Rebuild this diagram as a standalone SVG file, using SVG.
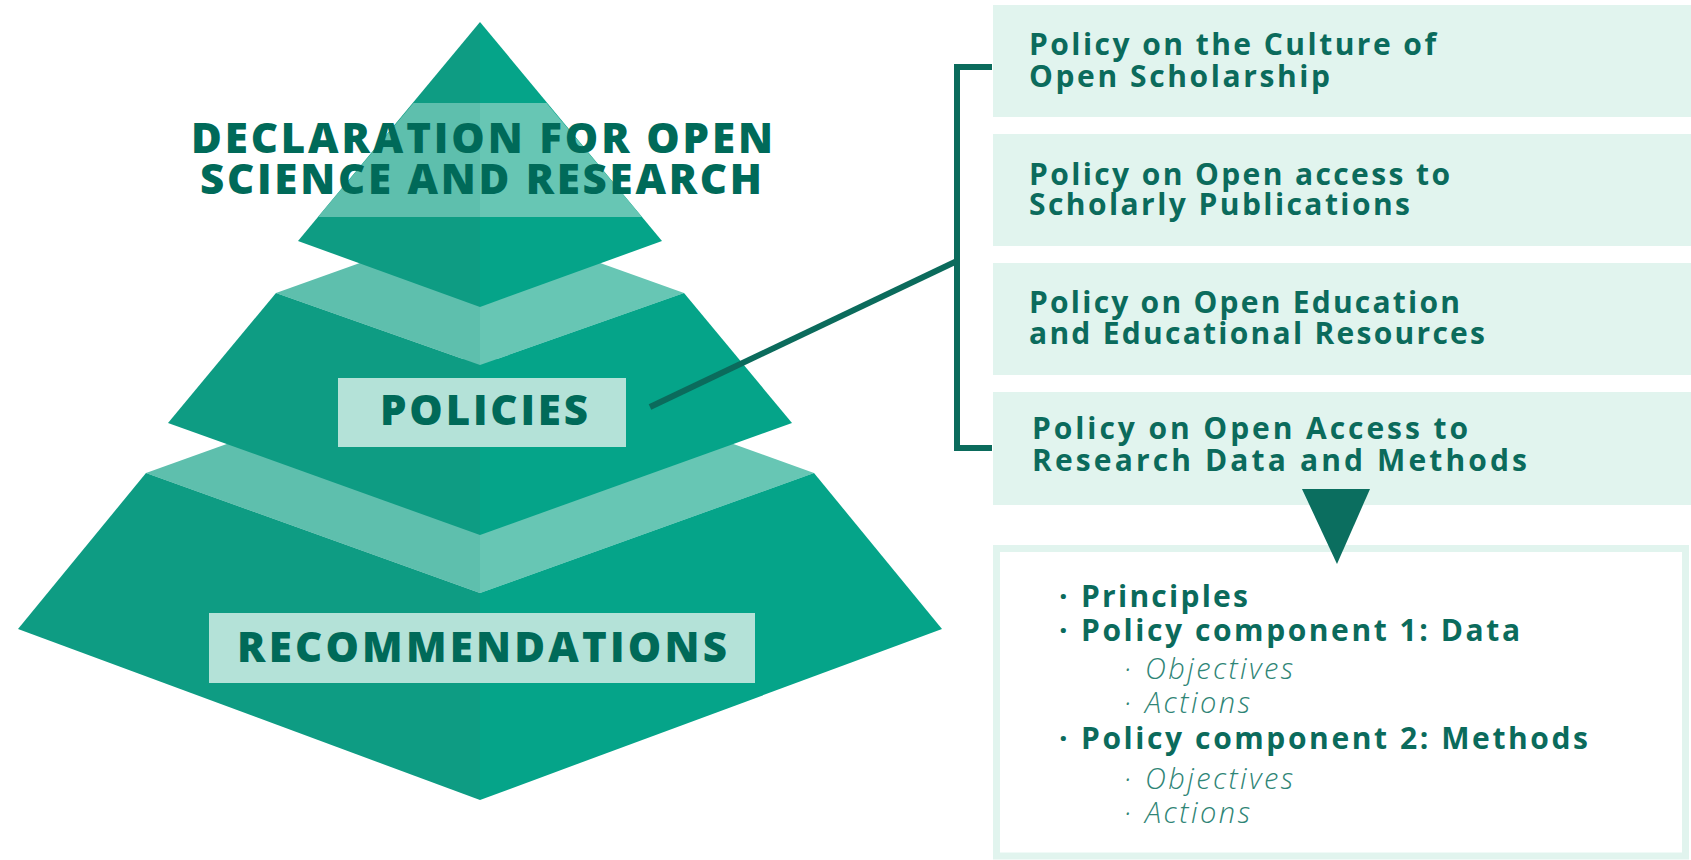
<svg xmlns="http://www.w3.org/2000/svg" width="1691" height="860" viewBox="0 0 1691 860">
<style>
.dl{fill:#0e9c83}.dr{fill:#05a489}
.ll{fill:#5ebfad}.lr{fill:#67c6b4}
.lab{fill:#b4e2d8}
.pt{font-family:"Open Sans","Noto Sans","DejaVu Sans",sans-serif;font-weight:800;fill:#006a59}
.box{fill:#e1f4ee}
.bt{font-family:"Open Sans","Noto Sans","DejaVu Sans",sans-serif;font-weight:700;font-size:30px;fill:#0b6b5c}
.it{font-family:"Open Sans","Noto Sans","DejaVu Sans",sans-serif;font-weight:300;font-style:italic;font-size:29px;fill:#2f8576}
.con{fill:none;stroke:#0b6b5c;stroke-width:6}
</style>
<rect width="1691" height="860" fill="#ffffff"/>
<g id="pyramid">
  <g id="tier3">
    <polygon class="ll" points="146,473 480,353 480,593"/>
    <polygon class="lr" points="814,473 480,353 480,593"/>
    <polygon class="dl" points="146,473 480,593 480,800 18,629"/>
    <polygon class="dr" points="814,473 480,593 480,800 942,629"/>
  </g>
  <g id="tier2">
    <polygon class="ll" points="276,293 480,220 480,365"/>
    <polygon class="lr" points="684,293 480,220 480,365"/>
    <polygon class="dl" points="276,293 480,365 480,535 168,423"/>
    <polygon class="dr" points="684,293 480,365 480,535 792,423"/>
  </g>
  <g id="tier1">
    <polygon class="dl" points="480,22 298,241 480,307"/>
    <polygon class="dr" points="480,22 662,241 480,307"/>
    <polygon class="ll" points="413.5,103 480,103 480,217 318,217"/>
    <polygon class="lr" points="546.5,103 480,103 480,217 642,217"/>
  </g>
</g>
<g id="declaration">
  <text class="pt" x="191" y="153" font-size="42" textLength="582" lengthAdjust="spacing">DECLARATION FOR OPEN</text>
  <text class="pt" x="200" y="194" font-size="42" textLength="562" lengthAdjust="spacing">SCIENCE AND RESEARCH</text>
</g>
<g id="policies">
  <rect class="lab" x="338" y="378" width="288" height="69"/>
  <text class="pt" x="380" y="425" font-size="42" textLength="208" lengthAdjust="spacing">POLICIES</text>
</g>
<g id="recommendations">
  <rect class="lab" x="209" y="613" width="546" height="70"/>
  <text class="pt" x="237" y="662" font-size="42" textLength="490" lengthAdjust="spacing">RECOMMENDATIONS</text>
</g>
<g id="policy1">
  <rect class="box" x="993" y="5" width="698" height="112"/>
  <text class="bt" x="1029" y="55" textLength="407" lengthAdjust="spacing">Policy on the Culture of</text>
  <text class="bt" x="1029" y="87" textLength="301" lengthAdjust="spacing">Open Scholarship</text>
</g>
<g id="policy2">
  <rect class="box" x="993" y="134" width="698" height="112"/>
  <text class="bt" x="1029" y="185" textLength="421" lengthAdjust="spacing">Policy on Open access to</text>
  <text class="bt" x="1029" y="215" textLength="381" lengthAdjust="spacing">Scholarly Publications</text>
</g>
<g id="policy3">
  <rect class="box" x="993" y="263" width="698" height="112"/>
  <text class="bt" x="1029" y="313" textLength="431" lengthAdjust="spacing">Policy on Open Education</text>
  <text class="bt" x="1029" y="344" textLength="456" lengthAdjust="spacing">and Educational Resources</text>
</g>
<g id="policy4">
  <rect class="box" x="993" y="392" width="698" height="113"/>
  <text class="bt" x="1032" y="439" textLength="436" lengthAdjust="spacing">Policy on Open Access to</text>
  <text class="bt" x="1032" y="471" textLength="495" lengthAdjust="spacing">Research Data and Methods</text>
</g>
<g id="components">
  <rect x="996.5" y="548.5" width="689" height="307.5" fill="#ffffff" stroke="#e1f4ee" stroke-width="7"/>
  <text class="bt" x="1059" y="607">·</text>
  <text class="bt" x="1081" y="607" textLength="167" lengthAdjust="spacing">Principles</text>
  <text class="bt" x="1059" y="641">·</text>
  <text class="bt" x="1081" y="641" textLength="439" lengthAdjust="spacing">Policy component 1: Data</text>
  <text class="it" x="1124" y="679">·</text>
  <text class="it" x="1145" y="679" textLength="148" lengthAdjust="spacing">Objectives</text>
  <text class="it" x="1124" y="713">·</text>
  <text class="it" x="1145" y="713" textLength="105" lengthAdjust="spacing">Actions</text>
  <text class="bt" x="1059" y="749">·</text>
  <text class="bt" x="1081" y="749" textLength="507" lengthAdjust="spacing">Policy component 2: Methods</text>
  <text class="it" x="1124" y="789">·</text>
  <text class="it" x="1145" y="789" textLength="148" lengthAdjust="spacing">Objectives</text>
  <text class="it" x="1124" y="823">·</text>
  <text class="it" x="1145" y="823" textLength="105" lengthAdjust="spacing">Actions</text>
</g>
<g id="connectors">
  <line class="con" x1="650" y1="407" x2="957" y2="261"/>
  <path class="con" stroke-width="7" d="M992,67 H957 V448 H992"/>
  <polygon points="1302,489 1370,489 1337,564" fill="#0b6e5f"/>
</g>
</svg>
